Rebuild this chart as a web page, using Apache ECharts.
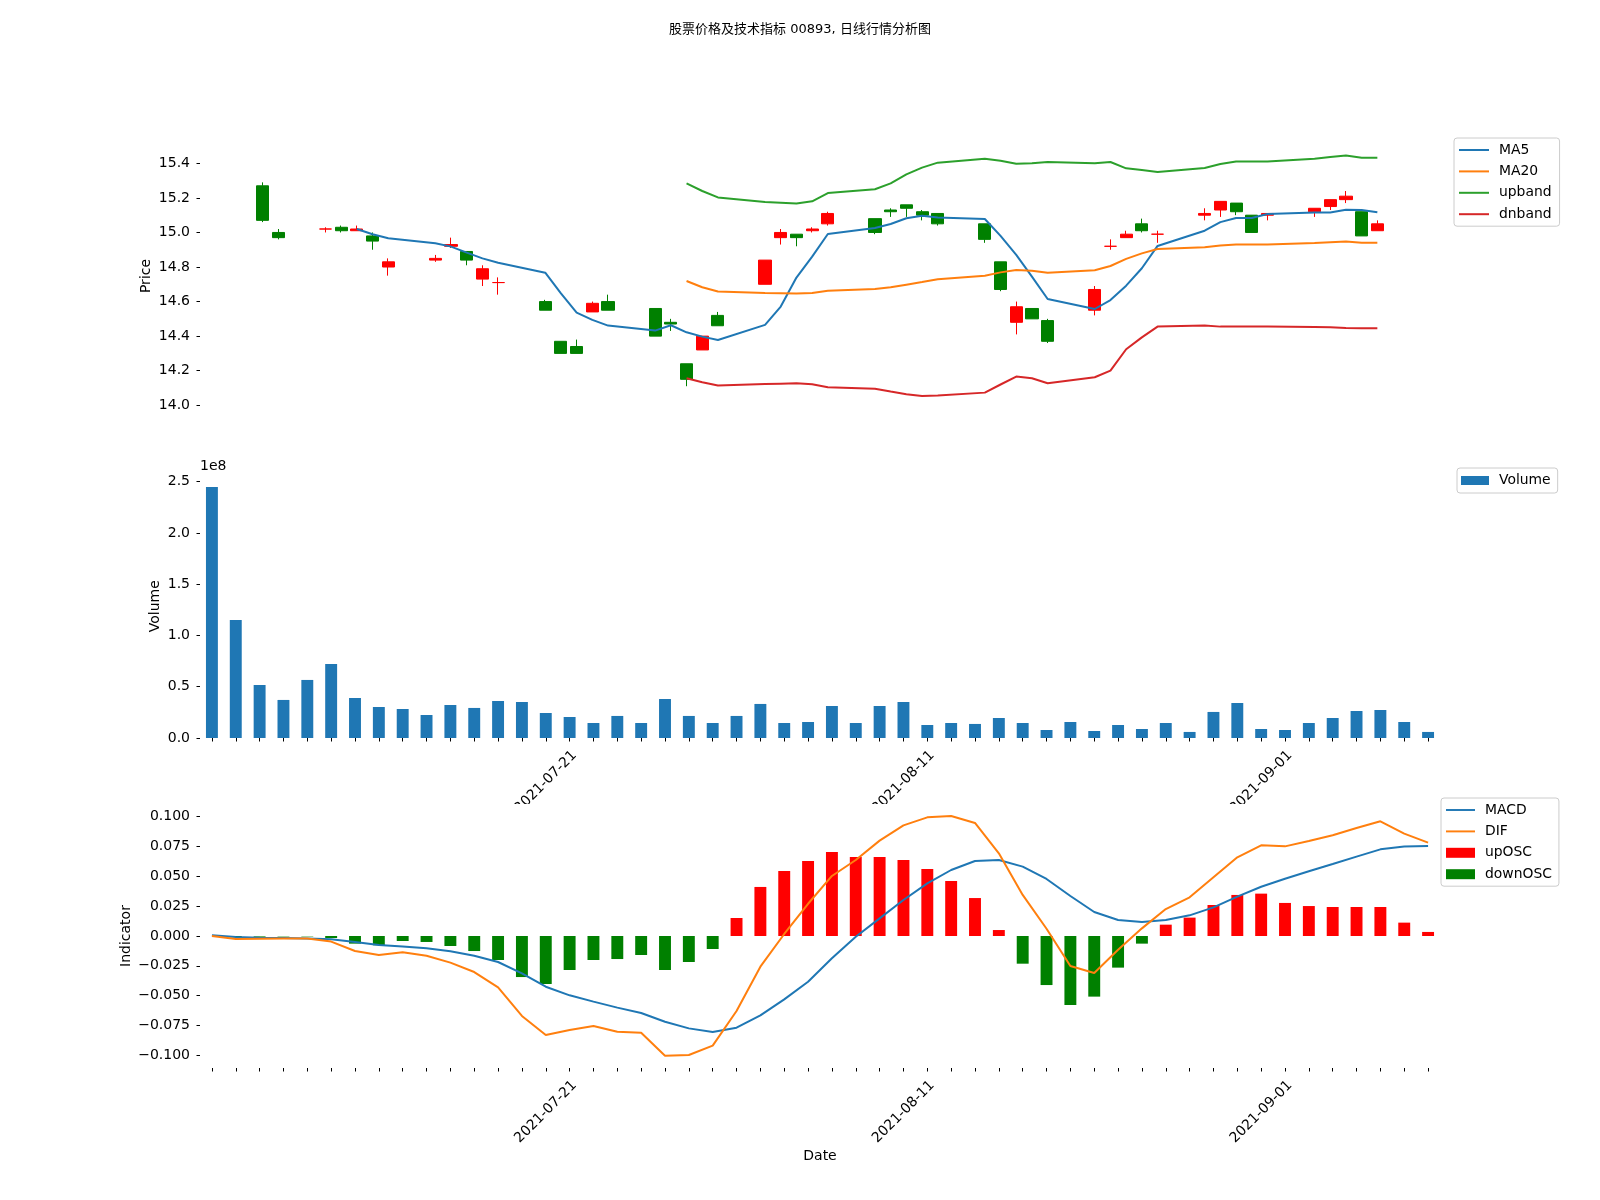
<!DOCTYPE html>
<html>
<head>
<meta charset="utf-8">
<title>00893</title>
<script src="https://cdn.jsdelivr.net/npm/echarts@6/dist/echarts.min.js"></script>
<style>
  html, body { margin: 0; padding: 0; background: #fff; }
  #main { width: 1600px; height: 1200px; }
</style>
</head>
<body>
<div id="main"></div>
<script>
// trading days
var dates = ['2021-07-01','2021-07-02','2021-07-05','2021-07-06','2021-07-07','2021-07-08','2021-07-09',
  '2021-07-12','2021-07-13','2021-07-14','2021-07-15','2021-07-16','2021-07-19','2021-07-20','2021-07-21',
  '2021-07-22','2021-07-23','2021-07-26','2021-07-27','2021-07-28','2021-07-29','2021-07-30','2021-08-02',
  '2021-08-03','2021-08-04','2021-08-05','2021-08-06','2021-08-09','2021-08-10','2021-08-11','2021-08-12',
  '2021-08-13','2021-08-16','2021-08-17','2021-08-18','2021-08-19','2021-08-20','2021-08-23','2021-08-24',
  '2021-08-25','2021-08-26','2021-08-27','2021-08-30','2021-08-31','2021-09-01','2021-09-02','2021-09-03',
  '2021-09-06','2021-09-07','2021-09-08','2021-09-09','2021-09-10'];

// OHLC
var openP  = [15.27,15.00,15.02,15.03,15.01,14.98,14.80,14.84,14.92,14.89,14.73,14.71,14.60,14.37,14.34,14.54,14.60,14.56,14.48,14.24,14.32,14.52,14.70,14.97,14.99,15.01,15.05,15.08,15.13,15.16,15.12,15.11,15.05,14.83,14.48,14.56,14.49,14.55,14.92,14.97,15.05,14.99,15.10,15.13,15.17,15.10,15.10,15.12,15.15,15.19,15.12,15.01];
var closeP = [15.07,14.97,15.02,15.01,15.02,14.95,14.83,14.85,14.93,14.84,14.79,14.71,14.55,14.30,14.30,14.59,14.55,14.40,14.47,14.15,14.40,14.46,14.84,15.00,14.97,15.02,15.11,15.00,15.12,15.14,15.10,15.05,14.96,14.67,14.57,14.50,14.37,14.67,14.92,14.99,15.01,14.99,15.11,15.18,15.12,15.00,15.11,15.14,15.19,15.21,14.98,15.05];
var lowP   = [15.06,14.96,15.00,15.00,15.01,14.90,14.75,14.83,14.91,14.81,14.69,14.64,14.55,14.30,14.30,14.54,14.55,14.40,14.43,14.11,14.32,14.46,14.70,14.93,14.92,15.00,15.04,14.99,15.09,15.09,15.07,15.04,14.94,14.66,14.41,14.50,14.36,14.52,14.90,14.97,15.00,14.94,15.07,15.09,15.10,15.00,15.07,15.09,15.13,15.17,14.98,15.01];
var highP  = [15.29,15.02,15.03,15.04,15.04,15.00,14.85,14.87,14.97,14.89,14.81,14.74,14.61,14.37,14.38,14.60,14.64,14.56,14.50,14.24,14.40,14.54,14.84,15.02,14.99,15.03,15.12,15.08,15.14,15.16,15.13,15.11,15.05,14.83,14.60,14.56,14.50,14.69,14.96,15.01,15.08,15.01,15.14,15.18,15.17,15.10,15.11,15.14,15.19,15.24,15.12,15.07];

// indicators on the price panel
var ma5 = [null,null,null,null,15.02,14.99,14.966,14.937,14.918,14.883,14.85,14.825,14.767,14.648,14.536,14.494,14.461,14.432,14.463,14.422,14.397,14.378,14.465,14.571,14.739,14.86,14.991,15.026,15.049,15.082,15.097,15.086,15.078,14.98,14.87,14.744,14.615,14.557,14.609,14.692,14.793,14.922,15.01,15.06,15.084,15.084,15.107,15.115,15.115,15.132,15.13,15.117];
var ma20 = [null,null,null,null,null,null,null,null,null,null,null,null,null,null,null,null,null,null,null,
  14.719,14.683,14.658,14.65,14.648,14.646,14.65,14.663,14.673,14.683,14.698,14.713,14.729,14.75,14.769,14.783,14.779,14.767,14.781,14.806,14.847,14.879,14.904,14.914,14.924,14.931,14.931,14.931,14.939,14.943,14.947,14.941,14.941];
var upband = [null,null,null,null,null,null,null,null,null,null,null,null,null,null,null,null,null,null,null,
  15.284,15.24,15.203,15.176,15.172,15.167,15.18,15.228,15.25,15.284,15.336,15.375,15.404,15.427,15.415,15.398,15.40,15.408,15.40,15.408,15.371,15.361,15.35,15.373,15.396,15.411,15.41,15.411,15.427,15.437,15.446,15.433,15.433];
var dnband = [null,null,null,null,null,null,null,null,null,null,null,null,null,null,null,null,null,null,null,
  14.156,14.133,14.114,14.123,14.125,14.127,14.121,14.104,14.096,14.079,14.064,14.054,14.056,14.073,14.12,14.166,14.156,14.127,14.162,14.20,14.324,14.393,14.455,14.461,14.455,14.455,14.455,14.455,14.453,14.452,14.447,14.445,14.445];

// volume
var volume = [2.448e8,1.151e8,0.517e8,0.371e8,0.566e8,0.722e8,0.39e8,0.302e8,0.283e8,0.224e8,
  0.322e8,0.293e8,0.361e8,0.351e8,0.244e8,0.205e8,0.146e8,0.215e8,0.146e8,0.38e8,
  0.215e8,0.146e8,0.215e8,0.332e8,0.146e8,0.156e8,0.312e8,0.146e8,0.312e8,0.351e8,
  0.127e8,0.146e8,0.137e8,0.195e8,0.146e8,0.078e8,0.156e8,0.068e8,0.127e8,0.088e8,
  0.146e8,0.059e8,0.254e8,0.341e8,0.088e8,0.078e8,0.146e8,0.195e8,0.263e8,0.273e8,0.156e8,0.059e8];

// MACD panel
var macd = [0.0006,-0.0008,-0.0014,-0.0017,-0.002,-0.0028,-0.005,-0.0075,-0.0087,-0.0103,
  -0.0128,-0.0165,-0.0218,-0.0313,-0.0425,-0.0497,-0.055,-0.060,-0.0645,-0.0718,
  -0.0774,-0.0804,-0.0768,-0.0665,-0.0531,-0.0383,-0.0187,-0.0006,0.0148,0.0302,
  0.0441,0.0553,0.0628,0.0637,0.0581,0.0478,0.0335,0.0201,0.0134,0.0117,
  0.0134,0.0173,0.024,0.033,0.0413,0.048,0.0542,0.0603,0.0665,0.0726,0.0749,0.0754];
var dif = [0,-0.0025,-0.0022,-0.002,-0.002,-0.0047,-0.0126,-0.0159,-0.0137,-0.0165,
  -0.0223,-0.0302,-0.043,-0.067,-0.083,-0.0788,-0.0754,-0.0802,-0.081,-0.1003,
  -0.0997,-0.0919,-0.0628,-0.0257,0.0017,0.027,0.0503,0.0637,0.0799,0.0927,
  0.0994,0.1006,0.0947,0.0693,0.0344,0.0061,-0.0251,-0.031,-0.0115,0.0064,
  0.0226,0.0324,0.0492,0.0659,0.076,0.0751,0.0796,0.0844,0.0905,0.0961,0.0858,0.0782];
var osc = [0,-0.001,-0.0005,-0.0003,-0.0003,-0.0017,-0.0064,-0.0078,-0.0042,-0.005,
  -0.0084,-0.0126,-0.0201,-0.0344,-0.0402,-0.0285,-0.0201,-0.0193,-0.0159,-0.0285,
  -0.0218,-0.0109,0.0151,0.0411,0.0545,0.0628,0.0704,0.0662,0.0662,0.0637,
  0.0561,0.0461,0.0318,0.005,-0.0232,-0.0411,-0.0578,-0.0508,-0.0265,-0.0064,
  0.0095,0.0154,0.026,0.0344,0.0355,0.0277,0.0251,0.0243,0.0243,0.0243,0.0112,0.0034];

// tick labels
var dateTicks = ['2021-07-21', '2021-08-11', '2021-09-01'];
var priceTicks = [14.0, 14.2, 14.4, 14.6, 14.8, 15.0, 15.2, 15.4];
var volumeTicks = [0, 0.5e8, 1.0e8, 1.5e8, 2.0e8, 2.5e8];
var indicatorTicks = [-0.1, -0.075, -0.05, -0.025, 0, 0.025, 0.05, 0.075, 0.1];

var FONT = 'DejaVu Sans';
var LINE_ICON = 'path://M0,0 L30,0 L30,2 L0,2 Z';

// price panel x axis counts calendar days from the first date
function dayOf(d) {
  return Math.round((Date.parse(d) - Date.parse(dates[0])) / 86400000);
}
function onDays(arr) {
  var out = [];
  for (var i = 0; i < dates.length; i++) {
    if (arr[i] != null) out.push([dayOf(dates[i]), arr[i]]);
  }
  return out;
}
var candles = dates.map(function (d, i) {
  return [dayOf(d), openP[i], closeP[i], lowP[i], highP[i]];
});

function yAxis(grid, min, max, ticks, fmt, name, gap) {
  return {
    type: 'value', gridIndex: grid, min: min, max: max,
    name: name, nameLocation: 'middle', nameGap: gap, nameRotate: 90, nameMoveOverlap: false,
    nameTextStyle: { fontSize: 14, color: '#000', fontFamily: FONT },
    axisLine: { show: false, onZero: false },
    splitLine: { show: false },
    axisTick: { show: true, length: 3.5, customValues: ticks, lineStyle: { color: '#000', width: 1 } },
    axisLabel: { customValues: ticks, formatter: fmt, fontSize: 14, color: '#000', margin: 10, fontFamily: FONT }
  };
}
function dateAxis(grid, extra) {
  var ax = {
    type: 'category', gridIndex: grid, data: dates, boundaryGap: true,
    axisLine: { show: false, onZero: false },
    splitLine: { show: false },
    axisTick: { show: true, alignWithLabel: true, interval: 0, length: 3.5, lineStyle: { color: '#000', width: 1 } },
    axisLabel: {
      interval: function (i, v) { return dateTicks.indexOf(v) >= 0; },
      rotate: 45, align: 'center', verticalAlign: 'middle', margin: 44,
      fontSize: 14, color: '#000', fontFamily: FONT
    }
  };
  for (var k in extra) ax[k] = extra[k];
  return ax;
}
function lineSeries(name, x, y, data, color) {
  return {
    name: name, type: 'line', xAxisIndex: x, yAxisIndex: y, data: data,
    symbol: 'none', z: 3,
    lineStyle: { width: 2, color: color }, itemStyle: { color: color }
  };
}

var legendBase = {
  orient: 'vertical', itemWidth: 30, itemHeight: 10, itemGap: 7.4,
  borderColor: '#cccccc', borderWidth: 1, borderRadius: 3, backgroundColor: '#fff',
  textStyle: { fontSize: 13.9, color: '#000', fontFamily: FONT, padding: [0, 0, 0, 5], lineHeight: 14 }
};
function legend(extra) {
  var l = {};
  for (var k in legendBase) l[k] = legendBase[k];
  for (var j in extra) l[j] = extra[j];
  return l;
}
function lineItem(name) { return { name: name, icon: LINE_ICON }; }

var chart = echarts.init(document.getElementById('main'));
chart.setOption({
  animation: false,
  backgroundColor: '#fff',
  textStyle: { fontFamily: FONT },
  title: {
    text: '股票价格及技术指标 00893, 日线行情分析图',
    left: 'center', top: 18,
    textStyle: { fontSize: 13, fontWeight: 'normal', color: '#000', fontFamily: 'DejaVu Sans, "Noto Sans CJK SC"' }
  },
  legend: [
    legend({ left: 1454, top: 138, padding: [5, 8, 5, 5],
             data: [lineItem('MA5'), lineItem('MA20'), lineItem('upband'), lineItem('dnband')] }),
    legend({ left: 1457, top: 468, itemWidth: 28, itemHeight: 9, padding: [5.5, 7, 5.5, 4],
             data: [{ name: 'Volume', icon: 'rect' }] }),
    legend({ left: 1441, top: 798, itemWidth: 29, padding: [5, 7, 5, 5],
             data: [lineItem('MACD'), lineItem('DIF'), { name: 'upOSC', icon: 'rect' }, { name: 'downOSC', icon: 'rect' }] })
  ],
  grid: [
    { left: 200, width: 1240, top: 144, height: 264 },
    { left: 200, width: 1240, top: 474.4, height: 263.6 },
    { left: 200, width: 1240, top: 804, height: 264 }
  ],
  xAxis: [
    { type: 'value', gridIndex: 0, min: -3.99, max: 74.99, show: false },
    dateAxis(1, {}),
    dateAxis(2, { name: 'Date', nameLocation: 'middle', nameGap: 81, nameMoveOverlap: false,
                  nameTextStyle: { fontSize: 14, color: '#000', fontFamily: FONT } })
  ],
  yAxis: [
    yAxis(0, 13.984, 15.512, priceTicks, function (v) { return v.toFixed(1); }, 'Price', 47),
    yAxis(1, 0, 2.570e8, volumeTicks, function (v) { return (v / 1e8).toFixed(1); }, 'Volume', 38),
    yAxis(2, -0.1106, 0.1106, indicatorTicks, function (v) {
      var s = Math.abs(v).toFixed(3);
      return v < -1e-9 ? '\u2212' + s : s;
    }, 'Indicator', 66.5)
  ],
  graphic: [
    { type: 'rect', shape: { x: 200, y: 804, width: 1240, height: 264 }, style: { fill: '#fff' }, z: 1, silent: true },
    { type: 'text', left: 200, top: 459, style: { text: '1e8', font: '14px "DejaVu Sans"', fill: '#000' } }
  ],
  series: [
    {
      type: 'candlestick', xAxisIndex: 0, yAxisIndex: 0, data: candles,
      encode: { x: 0, y: [1, 2, 3, 4] },
      barWidth: 12.6,
      itemStyle: {
        color: '#ff0000', color0: '#008000',
        borderColor: '#ff0000', borderColor0: '#008000', borderColorDoji: '#ff0000',
        borderWidth: 1
      }
    },
    lineSeries('MA5', 0, 0, onDays(ma5), '#1f77b4'),
    lineSeries('MA20', 0, 0, onDays(ma20), '#ff7f0e'),
    lineSeries('upband', 0, 0, onDays(upband), '#2ca02c'),
    lineSeries('dnband', 0, 0, onDays(dnband), '#d62728'),
    {
      name: 'Volume', type: 'bar', xAxisIndex: 1, yAxisIndex: 1, data: volume,
      barWidth: '50%', itemStyle: { color: '#1f77b4' }
    },
    {
      name: 'upOSC', type: 'bar', xAxisIndex: 2, yAxisIndex: 2,
      data: osc.map(function (v) { return v > 0 ? v : null; }),
      barWidth: '50%', barGap: '-100%', itemStyle: { color: '#ff0000' }
    },
    {
      name: 'downOSC', type: 'bar', xAxisIndex: 2, yAxisIndex: 2,
      data: osc.map(function (v) { return v < 0 ? v : null; }),
      barWidth: '50%', barGap: '-100%', itemStyle: { color: '#008000' }
    },
    lineSeries('MACD', 2, 2, macd, '#1f77b4'),
    lineSeries('DIF', 2, 2, dif, '#ff7f0e')
  ]
});
</script>
</body>
</html>
